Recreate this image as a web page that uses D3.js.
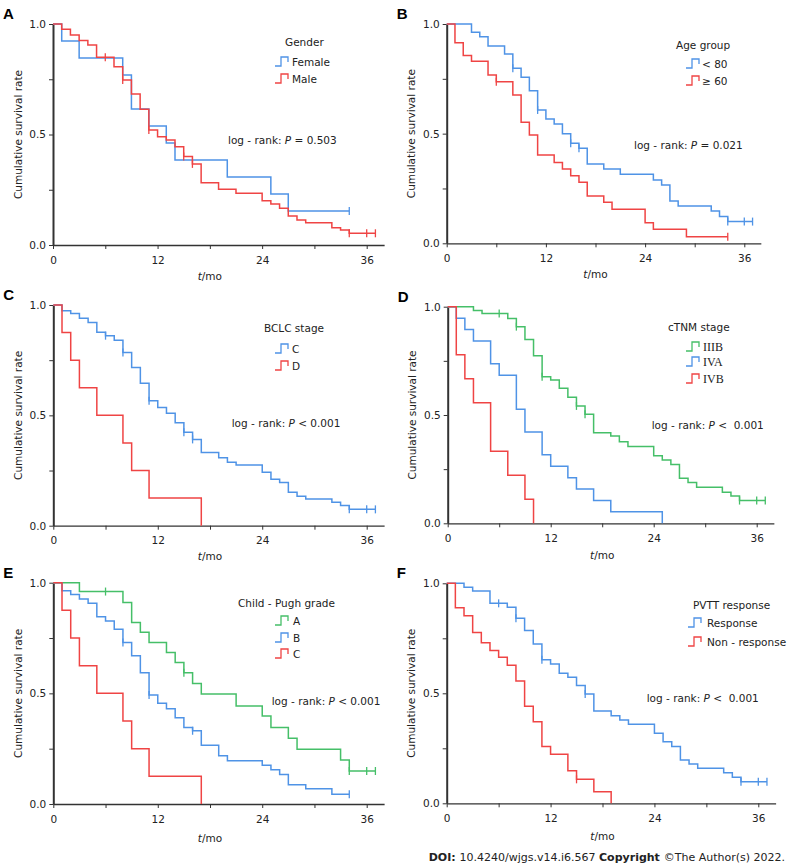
<!DOCTYPE html>
<html>
<head>
    <script src="https://d3js.org/d3.v7.min.js"></script>
    <style>
        body { margin: 0; background: #fff; }
        text { font-family: "DejaVu Sans", Verdana, sans-serif; font-size: 10.5px; fill: #222; }
        .axis path, .axis line { stroke: #333; }
        .axis text { font-size: 10.5px; fill: #222; }
    </style>
</head>
<body>
    <svg id="chart" width="793" height="864"></svg>

    <script>
        // survival steps: [month, survival after the drop]; censored months listed apart
        // A - gender
        var aFemale = [[1,0.923],[3,0.846],[8,0.769],[9,0.615],[11,0.538],[13,0.462],[14,0.385],[20,0.308],[25,0.231],[27,0.154]];
        var aFemaleCens = [34];
        var aMale = [[1,0.976],[2,0.95],[3,0.925],[4,0.905],[5,0.849],[7,0.807],[8,0.747],[9,0.683],[10,0.614],[11,0.52],[12,0.49],[13,0.475],[14,0.445],[15,0.4],[16,0.367],[17,0.282],[19,0.252],[21,0.234],[24,0.2],[25,0.186],[26,0.166],[27,0.131],[28,0.113],[29,0.101],[32,0.078],[33,0.068],[34,0.053]];
        var aMaleCens = [6, 8, 11, 15, 16, 34, 36, 37];

        // B - age group
        var bYoung = [[3,0.962],[4,0.942],[5,0.9],[7,0.863],[8,0.798],[9,0.757],[10,0.696],[11,0.608],[12,0.567],[13,0.544],[14,0.5],[15,0.456],[16,0.433],[17,0.362],[19,0.339],[21,0.315],[25,0.289],[26,0.266],[27,0.193],[28,0.17],[32,0.147],[33,0.122],[34,0.099]];
        var bYoungCens = [8, 11, 15, 16, 34, 36, 37];
        var bOld = [[1,0.915],[2,0.856],[3,0.83],[5,0.767],[6,0.737],[8,0.676],[9,0.552],[10,0.494],[11,0.403],[13,0.369],[14,0.339],[15,0.308],[16,0.278],[17,0.216],[19,0.187],[20,0.155],[24,0.094],[25,0.064],[29,0.03]];
        var bOldCens = [6, 34];

        // C - BCLC stage
        var cStageC = [[1,0.974],[2,0.962],[3,0.94],[4,0.921],[5,0.876],[6,0.861],[7,0.84],[8,0.785],[9,0.717],[10,0.645],[11,0.566],[12,0.536],[13,0.509],[14,0.467],[15,0.423],[16,0.391],[17,0.332],[19,0.308],[20,0.287],[21,0.275],[24,0.242],[25,0.211],[26,0.196],[27,0.151],[28,0.134],[29,0.121],[32,0.106],[33,0.091],[34,0.074]];
        var cStageCCens = [6, 8, 11, 15, 16, 34, 36, 37];
        var cStageD = [[1,0.875],[2,0.75],[3,0.625],[5,0.5],[8,0.375],[9,0.25],[11,0.125],[17,0]];
        var cStageDCens = [];

        // D - cTNM stage
        var dIIIB = [[3,0.982],[4,0.969],[7,0.946],[8,0.908],[9,0.849],[10,0.774],[11,0.677],[12,0.662],[13,0.623],[14,0.582],[15,0.542],[16,0.503],[17,0.418],[19,0.403],[20,0.377],[21,0.354],[24,0.312],[25,0.292],[26,0.272],[27,0.208],[28,0.188],[29,0.166],[32,0.143],[33,0.126],[34,0.105]];
        var dIIIBCens = [6, 8, 11, 15, 16, 34, 36, 37];
        var dIVA = [[1,0.947],[2,0.895],[3,0.842],[5,0.737],[6,0.684],[8,0.526],[9,0.421],[11,0.316],[12,0.263],[14,0.21],[15,0.158],[17,0.105],[19,0.053],[25,0]];
        var dIVACens = [];
        var dIVB = [[1,0.778],[2,0.667],[3,0.556],[5,0.333],[7,0.222],[9,0.111],[10,0]];
        var dIVBCens = [];

        // E - Child-Pugh grade
        var eA = [[3,0.96],[8,0.911],[9,0.82],[10,0.776],[11,0.73],[13,0.685],[14,0.639],[15,0.593],[16,0.545],[17,0.497],[21,0.443],[24,0.398],[25,0.346],[27,0.297],[28,0.247],[33,0.199],[34,0.149]];
        var eACens = [6, 15, 34, 36, 37];
        var eB = [[1,0.964],[2,0.947],[3,0.926],[4,0.907],[5,0.846],[6,0.827],[7,0.79],[8,0.73],[9,0.67],[10,0.593],[11,0.492],[12,0.455],[13,0.43],[14,0.39],[15,0.346],[16,0.331],[17,0.265],[19,0.218],[20,0.196],[24,0.175],[25,0.155],[26,0.133],[27,0.087],[29,0.069],[32,0.044]];
        var eBCens = [8, 11, 16, 34];
        var eC = [[1,0.875],[2,0.75],[3,0.625],[5,0.5],[8,0.375],[9,0.25],[11,0.125],[17,0]];
        var eCCens = [];

        // F - PVTT response
        var fResp = [[2,0.982],[3,0.965],[5,0.909],[7,0.891],[8,0.841],[9,0.785],[10,0.724],[11,0.652],[12,0.633],[13,0.591],[14,0.573],[15,0.535],[16,0.497],[17,0.42],[19,0.398],[20,0.379],[21,0.359],[24,0.318],[25,0.28],[26,0.258],[27,0.197],[28,0.179],[29,0.159],[32,0.139],[33,0.118],[34,0.098]];
        var fRespCens = [6, 8, 11, 16, 34, 36, 37];
        var fNon = [[1,0.889],[2,0.852],[3,0.776],[4,0.73],[5,0.694],[6,0.664],[7,0.627],[8,0.556],[9,0.441],[10,0.371],[11,0.258],[12,0.223],[14,0.148],[15,0.109],[17,0.053],[19,0]];
        var fNonCens = [15];

        var xTicks = [0, 6, 12, 18, 24, 30, 36];
        var yTicks = [0, 0.25, 0.5, 0.75, 1];

        var blue = "#4f93e6", red = "#ef4444", green = "#45bf68";

        var panels = [
            { id: "A", title: "Gender", p: "= 0.503",
              curves: [{ name: "Female", steps: aFemale, cens: aFemaleCens, color: blue },
                       { name: "Male", steps: aMale, cens: aMaleCens, color: red }],
              x0: 53, x36: 366.7, y1: 24, y0: 245,
              leg: { tx: 285, ty: 42, sx: 275, lx: 292, rows: [62, 79] }, lr: [228, 140], xl: 280 },
            { id: "B", title: "Age group", p: "= 0.021",
              curves: [{ name: "< 80", steps: bYoung, cens: bYoungCens, color: blue },
                       { name: "≥ 60", steps: bOld, cens: bOldCens, color: red }],
              x0: 446.7, x36: 744.3, y1: 24, y0: 243.3,
              leg: { tx: 676, ty: 45, sx: 686, lx: 702, rows: [64, 81] }, lr: [634, 145], xl: 278 },
            { id: "C", title: "BCLC stage", p: "< 0.001",
              curves: [{ name: "C", steps: cStageC, cens: cStageCCens, color: blue },
                       { name: "D", steps: cStageD, cens: cStageDCens, color: red }],
              x0: 53.3, x36: 366.7, y1: 305, y0: 525.7,
              leg: { tx: 264, ty: 328, sx: 275, lx: 292, rows: [349, 366] }, lr: [231.7, 423], xl: 560 },
            { id: "D", title: "cTNM stage", p: "<  0.001", serif: true,
              curves: [{ name: "IIIB", steps: dIIIB, cens: dIIIBCens, color: green },
                       { name: "IVA", steps: dIVA, cens: dIVACens, color: blue },
                       { name: "IVB", steps: dIVB, cens: dIVBCens, color: red }],
              x0: 447.7, x36: 756.7, y1: 306.7, y0: 523.3,
              leg: { tx: 668, ty: 327, sx: 686, lx: 703, rows: [347, 362, 379] }, lr: [651.7, 425], xl: 559 },
            { id: "E", title: "Child - Pugh grade", p: "< 0.001",
              curves: [{ name: "A", steps: eA, cens: eACens, color: green },
                       { name: "B", steps: eB, cens: eBCens, color: blue },
                       { name: "C", steps: eC, cens: eCCens, color: red }],
              x0: 53.3, x36: 366.7, y1: 582.7, y0: 804,
              leg: { tx: 238, ty: 603, sx: 275, lx: 293, rows: [621, 638, 654] }, lr: [271.7, 701.7], xl: 842 },
            { id: "F", title: "PVTT response", p: "<  0.001",
              curves: [{ name: "Response", steps: fResp, cens: fRespCens, color: blue },
                       { name: "Non - response", steps: fNon, cens: fNonCens, color: red }],
              x0: 446.7, x36: 758.3, y1: 583.3, y0: 803.3,
              leg: { tx: 693, ty: 605, sx: 688, lx: 707, rows: [623, 642] }, lr: [646.7, 698], xl: 840 }
        ];

        var svg = d3.select("#chart");

        function survAt(steps, t) {
            var s = 1;
            steps.forEach(d => { if (d[0] <= t) s = d[1]; });
            return s;
        }

        panels.forEach(function (pn) {
            var perMonth = (pn.x36 - pn.x0) / 36;
            var x = d3.scaleLinear().domain([0, 38]).range([pn.x0, pn.x0 + 38 * perMonth]);
            var y = d3.scaleLinear().domain([0, 1]).range([pn.y0, pn.y1]);
            var g = svg.append("g");

            // axes
            g.append("g").attr("class", "axis").attr("transform", `translate(0,${pn.y0})`)
                .call(d3.axisBottom(x).tickValues(xTicks).tickSize(4).tickSizeOuter(0)
                    .tickFormat(d => d % 12 === 0 ? d : ""))
                .call(a => a.select(".domain").attr("stroke-width", 1.3))
                .call(a => a.selectAll("text").attr("dy", "1.1em"));
            g.append("g").attr("class", "axis").attr("transform", `translate(${pn.x0},0)`)
                .call(d3.axisLeft(y).tickValues(yTicks).tickSize(4).tickSizeOuter(0)
                    .tickFormat(d => d * 2 % 1 === 0 ? d.toFixed(1) : ""))
                .call(a => a.select(".domain").attr("stroke", "#555").attr("stroke-width", 2));

            // curves
            var line = d3.line().x(d => x(d[0])).y(d => y(d[1])).curve(d3.curveStepAfter);
            pn.curves.forEach(function (c) {
                var last = c.steps[c.steps.length - 1];
                var tEnd = Math.max(last[0], d3.max(c.cens) || 0);
                var pts = [[0, 1]].concat(c.steps);
                if (tEnd > last[0]) pts.push([tEnd, last[1]]);
                g.append("path").datum(pts).attr("d", line)
                    .attr("fill", "none").attr("stroke", c.color).attr("stroke-width", 1.5);
                g.selectAll(null).data(c.cens).enter().append("line")
                    .attr("x1", d => x(d)).attr("x2", d => x(d))
                    .attr("y1", d => y(survAt(c.steps, d)) - 4)
                    .attr("y2", d => y(survAt(c.steps, d)) + 4)
                    .attr("stroke", c.color).attr("stroke-width", 1.3);
            });

            // legend
            g.append("text").attr("x", pn.leg.tx).attr("y", pn.leg.ty).attr("dy", "0.35em").text(pn.title);
            pn.curves.forEach(function (c, i) {
                var ry = pn.leg.rows[i];
                g.append("path")
                    .attr("d", `M${pn.leg.sx},${ry + 4}h6v-9h7v5`)
                    .attr("fill", "none").attr("stroke", c.color).attr("stroke-width", 1.3);
                g.append("text").attr("x", pn.leg.lx).attr("y", ry).attr("dy", "0.35em")
                    .style("font-family", pn.serif ? "'Liberation Serif', serif" : null)
                    .style("font-size", pn.serif ? "12px" : null)
                    .text(c.name);
            });

            // log-rank
            var lr = g.append("text").attr("x", pn.lr[0]).attr("y", pn.lr[1]).attr("dy", "0.35em")
                .attr("xml:space", "preserve");
            lr.append("tspan").text("log - rank: ");
            lr.append("tspan").style("font-style", "italic").text("P");
            lr.append("tspan").text(" " + pn.p);

            // axis titles
            g.append("text").attr("text-anchor", "middle")
                .attr("transform", `translate(${pn.x0 - 35},${(pn.y0 + pn.y1) / 2})rotate(-90)`)
                .attr("dy", "0.35em").text("Cumulative survival rate");
            var xl = g.append("text").attr("text-anchor", "middle").attr("x", x(18)).attr("y", pn.xl);
            xl.append("tspan").style("font-style", "italic").text("t");
            xl.append("tspan").text("/mo");

            // panel letter
            svg.append("text").attr("x", pn.x0 - 50).attr("y", pn.y1 - 5)
                .style("font-family", "'Liberation Sans', Arial, sans-serif")
                .style("font-weight", "bold").style("font-size", "15px").style("fill", "#000")
                .text(pn.id);
        });

        var doi = svg.append("text").attr("x", 785).attr("y", 861).attr("text-anchor", "end")
            .style("font-size", "11px").attr("xml:space", "preserve");
        doi.append("tspan").style("font-weight", "bold").text("DOI: ");
        doi.append("tspan").text("10.4240/wjgs.v14.i6.567 ");
        doi.append("tspan").style("font-weight", "bold").text("Copyright ");
        doi.append("tspan").text("©The Author(s) 2022.");
    </script>
</body>
</html>
